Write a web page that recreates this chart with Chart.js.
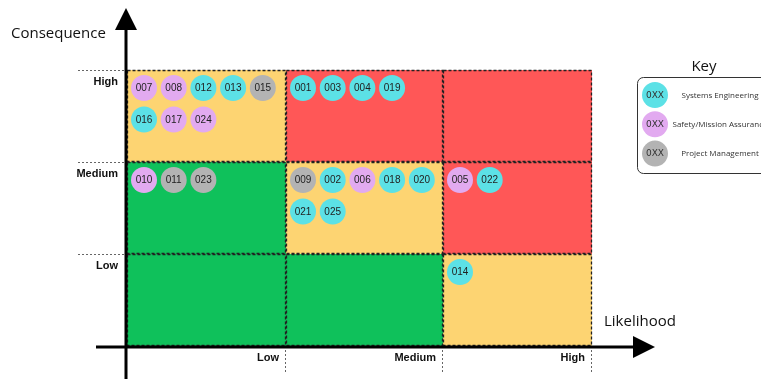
<!DOCTYPE html>
<html>
<head>
<meta charset="utf-8">
<script src="https://cdn.jsdelivr.net/npm/chart.js@4"></script>
<style>
  html, body { margin: 0; padding: 0; background: #fff; }
  canvas { display: block; }
</style>
</head>
<body>
<canvas id="riskChart" width="761" height="379"></canvas>
<script>
// axis levels (index 0 = Low)
const likelihoodLabels = ['Low', 'Medium', 'High'];
const consequenceLabels = ['Low', 'Medium', 'High'];
// column edges along likelihood axis (scale units)
const likelihoodEdges = [0, 159, 316, 465];

// cell colours: rows = consequence (Low..High), cols = likelihood (Low..High)
const cellColors = [
    ['#0fc15b', '#0fc15b', '#fdd472'],
    ['#0fc15b', '#fdd472', '#ff5757'],
    ['#fdd472', '#ff5757', '#ff5757'],
];

const teams = ['Systems Engineering', 'Safety/Mission Assurance', 'Project Management'];
const teamColors = ['#5ce1e6', '#e2aaf0', '#b3b3b3'];

// risks, in the order they appear inside each cell
const riskIds = ['007', '008', '012', '013', '015', '016', '017', '024',
    '001', '003', '004', '019',
    '010', '011', '023',
    '009', '002', '006', '018', '020', '021', '025',
    '005', '022',
    '014'];
const riskLikelihood = [0, 0, 0, 0, 0, 0, 0, 0,
    1, 1, 1, 1,
    0, 0, 0,
    1, 1, 1, 1, 1, 1, 1,
    2, 2,
    2];
const riskConsequence = [2, 2, 2, 2, 2, 2, 2, 2,
    2, 2, 2, 2,
    1, 1, 1,
    1, 1, 1, 1, 1, 1, 1,
    1, 1,
    0];
const riskTeam = [1, 1, 0, 0, 2, 0, 1, 1,
    0, 0, 0, 0,
    1, 2, 2,
    2, 0, 1, 0, 0, 0, 0,
    1, 0,
    0];

// place each risk in its cell, wrapping after 5 per line
const perLine = 5;
const cellCount = {};
const points = riskIds.map((id, i) => {
    const col = riskLikelihood[i];
    const row = riskConsequence[i];
    const key = row + '-' + col;
    const slot = cellCount[key] || 0;
    cellCount[key] = slot + 1;
    return {
        x: likelihoodEdges[col] + 17 + (slot % perLine) * 29.7,
        y: row + 1 - (18 + Math.floor(slot / perLine) * 31.5) / 92,
        id: id,
    };
});

const sans = '"Liberation Sans", Arial, sans-serif';
const open = '"Open Sans", sans-serif';

const matrixPlugin = {
    id: 'matrix',
    beforeDatasetsDraw(chart) {
        const { ctx, scales: { x, y } } = chart;
        ctx.save();
        for (let r = 0; r < 3; r++) {
            for (let c = 0; c < 3; c++) {
                const x0 = x.getPixelForValue(likelihoodEdges[c]);
                const x1 = x.getPixelForValue(likelihoodEdges[c + 1]);
                const y0 = y.getPixelForValue(r + 1);
                const y1 = y.getPixelForValue(r);
                ctx.fillStyle = cellColors[r][c];
                ctx.fillRect(x0, y0, x1 - x0, y1 - y0);
            }
        }
        ctx.strokeStyle = '#222';
        ctx.lineWidth = 1.3;
        ctx.setLineDash([3, 2]);
        for (let r = 0; r < 3; r++) {
            for (let c = 0; c < 3; c++) {
                const x0 = x.getPixelForValue(likelihoodEdges[c]);
                const x1 = x.getPixelForValue(likelihoodEdges[c + 1]);
                const y0 = y.getPixelForValue(r + 1);
                const y1 = y.getPixelForValue(r);
                ctx.strokeRect(x0 + 0.5, y0 + 0.5, x1 - x0 - 1, y1 - y0 - 1);
            }
        }
        ctx.restore();
    },
    afterDatasetsDraw(chart) {
        const { ctx, scales: { x, y } } = chart;
        const meta = chart.getDatasetMeta(0);
        ctx.save();
        ctx.fillStyle = '#222';
        ctx.font = '10px ' + sans;
        ctx.textAlign = 'center';
        ctx.textBaseline = 'middle';
        meta.data.forEach((pt, i) => {
            ctx.fillText(riskIds[i], pt.x, pt.y + 0.5);
        });

        const left = x.getPixelForValue(0);
        const bottom = y.getPixelForValue(0);

        // thin guide lines outside the grid
        ctx.strokeStyle = '#666';
        ctx.lineWidth = 1;
        ctx.setLineDash([2, 2]);
        for (let r = 1; r <= 3; r++) {
            const py = Math.round(y.getPixelForValue(r)) + 0.5;
            ctx.beginPath();
            ctx.moveTo(78, py);
            ctx.lineTo(left, py);
            ctx.stroke();
        }
        for (let c = 1; c < likelihoodEdges.length; c++) {
            const px = Math.round(x.getPixelForValue(likelihoodEdges[c])) - 0.5;
            ctx.beginPath();
            ctx.moveTo(px, bottom);
            ctx.lineTo(px, bottom + 27);
            ctx.stroke();
        }
        ctx.setLineDash([]);

        // axes with arrow heads
        ctx.strokeStyle = '#000';
        ctx.fillStyle = '#000';
        ctx.lineWidth = 3;
        ctx.beginPath();
        ctx.moveTo(left - 1, 28);
        ctx.lineTo(left - 1, 379);
        ctx.moveTo(96, bottom + 1);
        ctx.lineTo(634, bottom + 1);
        ctx.stroke();
        ctx.beginPath();
        ctx.moveTo(left - 1, 8);
        ctx.lineTo(left - 12, 30);
        ctx.lineTo(left + 10, 30);
        ctx.closePath();
        ctx.fill();
        ctx.beginPath();
        ctx.moveTo(655, bottom + 1);
        ctx.lineTo(633, bottom - 10);
        ctx.lineTo(633, bottom + 12);
        ctx.closePath();
        ctx.fill();

        // level labels
        ctx.font = 'bold 11px ' + sans;
        ctx.fillStyle = '#111';
        ctx.textAlign = 'right';
        ctx.textBaseline = 'middle';
        consequenceLabels.forEach((lab, r) => {
            ctx.fillText(lab, 118, y.getPixelForValue(r + 1) + 12);
        });
        likelihoodLabels.forEach((lab, c) => {
            ctx.fillText(lab, x.getPixelForValue(likelihoodEdges[c + 1]) - 7, bottom + 12);
        });

        // axis titles
        ctx.font = '15px ' + open;
        ctx.fillStyle = '#111';
        ctx.textAlign = 'left';
        ctx.fillText('Consequence', 11, 34);
        ctx.fillText('Likelihood', 604, 322);

        // key
        ctx.textAlign = 'center';
        ctx.fillText('Key', 704, 67);
        ctx.strokeStyle = '#333';
        ctx.lineWidth = 1;
        ctx.beginPath();
        ctx.roundRect(637.5, 77.5, 140, 96, 6);
        ctx.stroke();
        teams.forEach((team, t) => {
            const cy = 95 + t * 29.3;
            ctx.fillStyle = teamColors[t];
            ctx.beginPath();
            ctx.arc(655, cy, 13, 0, Math.PI * 2);
            ctx.fill();
            ctx.fillStyle = '#333';
            ctx.font = '9px "DejaVu Sans", sans-serif';
            ctx.fillText('0XX', 655, cy + 0.5);
            ctx.font = '8px ' + open;
            ctx.fillText(team, 720, cy + 0.5);
        });
        ctx.restore();
    }
};

new Chart(document.getElementById('riskChart'), {
    type: 'scatter',
    data: {
        datasets: [{
            label: 'Risks',
            data: points,
            backgroundColor: riskTeam.map(t => teamColors[t]),
            borderWidth: 0,
            pointRadius: 13,
            pointHoverRadius: 13,
        }]
    },
    options: {
        responsive: false,
        animation: false,
        layout: { padding: { left: 127, right: 169, top: 70, bottom: 33 } },
        plugins: {
            legend: { display: false },
            tooltip: { enabled: false },
        },
        scales: {
            x: { type: 'linear', min: 0, max: 465, display: false },
            y: { type: 'linear', min: 0, max: 3, display: false },
        }
    },
    plugins: [matrixPlugin]
});
</script>
</body>
</html>
